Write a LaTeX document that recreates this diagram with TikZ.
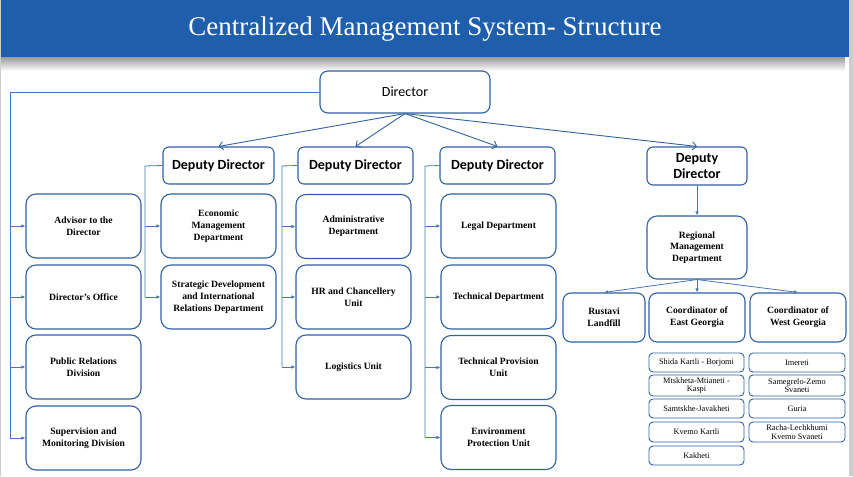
\documentclass[tikz,border=0pt]{standalone}
\usepackage{fontspec}
\setmainfont{Liberation Serif}
\newfontfamily\calfont{Carlito}
\usetikzlibrary{arrows.meta}
\definecolor{barblue}{RGB}{31,94,170}
\definecolor{boxblue}{RGB}{50,98,160}
\definecolor{lineblue}{RGB}{70,120,185}
\definecolor{edgegray}{RGB}{205,205,205}
\tikzset{
 base/.style={draw=boxblue, line width=1.1pt, fill=white, align=center, inner sep=1pt},
 deputy/.style={base, rounded corners=6pt, font=\calfont\bfseries\fontsize{14}{16}\selectfont, minimum height=37pt},
 dirbox/.style={base, rounded corners=8pt, font=\calfont\fontsize{14}{16}\selectfont, minimum width=170pt, minimum height=42pt},
 unit/.style={base, rounded corners=10pt, font=\bfseries\fontsize{9.6}{11.7}\selectfont, minimum width=115pt, minimum height=64pt},
 coord/.style={unit, minimum height=49pt, rounded corners=8pt},
 small/.style={base, line width=0.9pt, rounded corners=4pt, font=\fontsize{8.3}{8.5}\selectfont, minimum height=19pt, inner sep=0pt},
 link/.style={draw=lineblue, line width=0.8pt},
 branch/.style={link, -{Latex[length=4pt,width=3.5pt]}},
 toparrow/.style={draw=boxblue, line width=0.9pt, -{Straight Barb[length=4pt,width=8pt]}},
}
\begin{document}
\begin{tikzpicture}[x=1pt,y=-1pt]
\useasboundingbox (0,0) rectangle (853,476);
\fill[white] (0,0) rectangle (853,476);
\shade[top color=black!45, bottom color=white] (0,55) rectangle (845,71);
\fill[barblue] (1,0) rectangle (849,57);
\fill[edgegray] (849,0) rectangle (853,476);
\fill[edgegray] (0,0) rectangle (1,476);
\node[text=white, font=\fontsize{27}{30}\selectfont] (title) at (425,29) {Centralized Management System- Structure};

% top level
\node[dirbox] (dir) at (405,92) {Director};
\node[deputy, minimum width=111pt] (d1) at (218.5,165.5) {Deputy Director};
\node[deputy, minimum width=115pt] (d2) at (355.5,165.5) {Deputy Director};
\node[deputy, minimum width=115pt] (d3) at (497.5,165.5) {Deputy Director};
\node[deputy, minimum width=100pt, minimum height=38pt] (d4) at (697,166) {Deputy\\Director};

% left column
\node[unit] (adv) at (83.5,226) {Advisor to the\\Director};
\node[unit] (off) at (83.5,297) {Director’s Office};
\node[unit] (pr)  at (83.5,367) {Public Relations\\Division};
\node[unit] (sup) at (83.5,438) {Supervision and\\Monitoring Division};

% column 2
\node[unit] (eco)   at (218.5,226) {Economic\\Management\\Department};
\node[unit] (strat) at (218.5,297) {Strategic Development\\and International\\Relations Department};

% column 3
\node[unit] (adm) at (353.5,226.5) {Administrative\\Department};
\node[unit] (hr)  at (353.5,297) {HR and Chancellery\\Unit};
\node[unit] (log) at (353.5,367) {Logistics Unit};

% column 4
\node[unit] (leg) at (498.5,226) {Legal Department};
\node[unit] (tec) at (498.5,297) {Technical Department};
\node[unit] (tpu) at (498.5,367.5) {Technical Provision\\Unit};
\node[unit] (env) at (498.5,437.5) {Environment\\Protection Unit};

% right part
\node[unit, minimum width=100pt, minimum height=63pt] (reg) at (697,247.5) {Regional\\Management\\Department};
\node[coord, minimum width=82pt] (rus) at (604,317.5) {Rustavi\\Landfill};
\node[coord, minimum width=96pt] (east) at (697,317.5) {Coordinator of\\East Georgia};
\node[coord, minimum width=96pt] (west) at (798,317.5) {Coordinator of\\West Georgia};

% small regions
\node[small, minimum width=95pt] (r1) at (696.5,362.5) {Shida Kartli - Borjomi};
\node[small, minimum width=95pt, minimum height=21pt] (r2) at (696.5,385.5) {Mtskheta-Mtianeti -\\Kaspi};
\node[small, minimum width=95pt] (r3) at (696.5,408.5) {Samtskhe-Javakheti};
\node[small, minimum width=95pt, minimum height=20pt] (r4) at (696.5,432) {Kvemo Kartli};
\node[small, minimum width=95pt] (r5) at (696.5,455.5) {Kakheti};
\node[small, minimum width=96pt] (w1) at (797,362.5) {Imereti};
\node[small, minimum width=96pt, minimum height=21pt] (w2) at (797,385.5) {Samegrelo-Zemo\\Svaneti};
\node[small, minimum width=96pt] (w3) at (797,408.5) {Guria};
\node[small, minimum width=96pt, minimum height=20pt] (w4) at (797,432) {Racha-Lechkhumi\\Kvemo Svaneti};

% director to deputies
\foreach \n in {d1,d2,d3,d4} \draw[toparrow] (dir.south) -- (\n.north);

% left trunk
\coordinate (L) at (10,92);
\draw[link] (dir.west) -- (L) -- (L |- sup.west);
\foreach \n in {adv,off,pr,sup} \draw[branch] (L |- \n.west) -- (\n.west);

% deputy 1 trunk
\coordinate (T1) at (145,166);
\draw[link] (d1.west) -- (T1) -- (T1 |- strat.west);
\foreach \n in {eco,strat} \draw[branch] (T1 |- \n.west) -- (\n.west);

% deputy 2 trunk
\coordinate (T2) at (282,166);
\draw[link] (d2.west) -- (T2) -- (T2 |- log.west);
\foreach \n in {adm,hr,log} \draw[branch] (T2 |- \n.west) -- (\n.west);

% deputy 3 trunk
\coordinate (T3) at (425,166);
\draw[link] (d3.west) -- (T3) -- (T3 |- env.west);
\foreach \n in {leg,tec,tpu,env} \draw[branch] (T3 |- \n.west) -- (\n.west);

% regional
\draw[branch] (d4.south) -- (reg.north);
\foreach \n in {rus,east,west} \draw[branch] (reg.south) -- (\n.north);
\end{tikzpicture}
\end{document}
